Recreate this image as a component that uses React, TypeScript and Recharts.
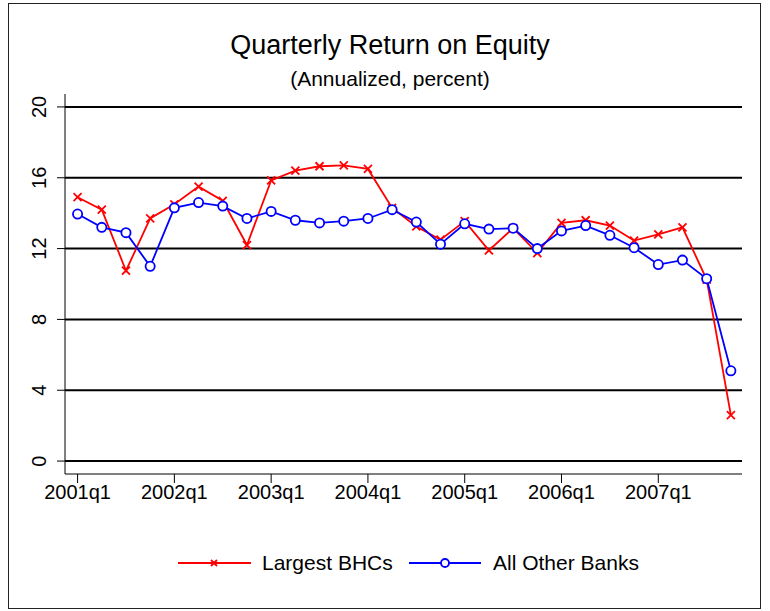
import { LineChart, Line, XAxis, YAxis, ReferenceLine } from 'recharts'

const QUARTERS = [
  '2001q1', '2001q2', '2001q3', '2001q4',
  '2002q1', '2002q2', '2002q3', '2002q4',
  '2003q1', '2003q2', '2003q3', '2003q4',
  '2004q1', '2004q2', '2004q3', '2004q4',
  '2005q1', '2005q2', '2005q3', '2005q4',
  '2006q1', '2006q2', '2006q3', '2006q4',
  '2007q1', '2007q2', '2007q3', '2007q4',
]

// Largest BHCs
const LARGEST_BHCS = [
  14.9, 14.2, 10.75, 13.7, 14.5, 15.5, 14.7, 12.2,
  15.85, 16.4, 16.65, 16.7, 16.5, 14.3, 13.25, 12.5,
  13.55, 11.9, 13.15, 11.75, 13.45, 13.6, 13.3, 12.45,
  12.8, 13.2, 10.25, 2.6,
]

// All Other Banks
const OTHER_BANKS = [
  13.95, 13.2, 12.9, 11.0, 14.3, 14.6, 14.4, 13.7,
  14.1, 13.6, 13.45, 13.55, 13.7, 14.2, 13.5, 12.25,
  13.4, 13.1, 13.15, 12.0, 13.0, 13.3, 12.75, 12.05,
  11.1, 11.35, 10.3, 5.1,
]

const X_TICKS = [0, 4, 8, 12, 16, 20, 24]
const Y_TICKS = [0, 4, 8, 12, 16, 20]

const FONT = '"Liberation Sans", Arial, sans-serif'

const data = QUARTERS.map((q, i) => ({
  idx: i,
  name: q,
  bhc: LARGEST_BHCS[i],
  other: OTHER_BANKS[i],
}))

const CrossDot = (props: any) => {
  const { cx, cy } = props
  if (cx == null || cy == null) return null
  const s = 4
  return (
    <g>
      <line x1={cx - s} y1={cy - s} x2={cx + s} y2={cy + s} stroke="#ff0000" strokeWidth={1.8} />
      <line x1={cx - s} y1={cy + s} x2={cx + s} y2={cy - s} stroke="#ff0000" strokeWidth={1.8} />
    </g>
  )
}

const CircleDot = (props: any) => {
  const { cx, cy } = props
  if (cx == null || cy == null) return null
  return <circle cx={cx} cy={cy} r={4.6} fill="#ffffff" stroke="#0000ff" strokeWidth={1.8} />
}

const YTick = (props: any) => {
  const { x, y, payload } = props
  return (
    <text
      x={x - 9}
      y={y}
      transform={`rotate(-90 ${x - 9} ${y})`}
      textAnchor="middle"
      fontSize={20}
      fontFamily={FONT}
      fill="#000"
    >
      {payload.value}
    </text>
  )
}

export default function App() {
  return (
    <div
      style={{
        position: 'absolute',
        left: 0,
        top: 0,
        width: 770,
        height: 611,
        background: '#fff',
        fontFamily: FONT,
      }}
    >
      {/* outer frame */}
      <div
        style={{
          position: 'absolute',
          left: 8,
          top: 3,
          width: 751,
          height: 604,
          border: '1.5px solid #222',
        }}
      />

      {/* titles */}
      <div style={{ position: 'absolute', top: 30, left: 0, width: 780, textAlign: 'center', fontSize: 27, color: '#000' }}>
        Quarterly Return on Equity
      </div>
      <div style={{ position: 'absolute', top: 67, left: 0, width: 780, textAlign: 'center', fontSize: 21, color: '#000' }}>
        (Annualized, percent)
      </div>

      <div style={{ position: 'absolute', left: 0, top: 0 }}>
        <LineChart width={770} height={611} data={data} margin={{ top: 94, right: 28, bottom: 97, left: 0 }}>
          {Y_TICKS.map((v) => (
            <ReferenceLine key={v} y={v} stroke="#000" strokeWidth={2} />
          ))}
          <XAxis
            dataKey="idx"
            type="number"
            domain={[-0.52, 27.46]}
            ticks={X_TICKS}
            tickFormatter={(v: number) => QUARTERS[v]}
            tick={{ fontSize: 20, fill: '#000', fontFamily: FONT }}
            tickSize={9}
            tickLine={{ stroke: '#000' }}
            axisLine={{ stroke: '#000' }}
            height={40}
            interval={0}
          />
          <YAxis
            type="number"
            domain={[-0.73, 20.73]}
            ticks={Y_TICKS}
            tick={<YTick />}
            tickSize={8}
            tickLine={{ stroke: '#000' }}
            axisLine={{ stroke: '#000' }}
            width={65}
            allowDataOverflow
          />
          <Line
            dataKey="bhc"
            name="Largest BHCs"
            stroke="#ff0000"
            strokeWidth={1.8}
            dot={<CrossDot />}
            activeDot={false}
            isAnimationActive={false}
          />
          <Line
            dataKey="other"
            name="All Other Banks"
            stroke="#0000ff"
            strokeWidth={1.8}
            dot={<CircleDot />}
            activeDot={false}
            isAnimationActive={false}
          />
        </LineChart>
      </div>

      {/* legend */}
      <svg style={{ position: 'absolute', left: 0, top: 540 }} width={770} height={50}>
        <line x1={178} y1={23} x2={251} y2={23} stroke="#ff0000" strokeWidth={1.8} />
        <line x1={211} y1={20} x2={217} y2={26} stroke="#ff0000" strokeWidth={1.8} />
        <line x1={211} y1={26} x2={217} y2={20} stroke="#ff0000" strokeWidth={1.8} />
        <text x={262} y={30} fontSize={21} fontFamily={FONT} fill="#000">Largest BHCs</text>
        <line x1={409} y1={23} x2={481} y2={23} stroke="#0000ff" strokeWidth={1.8} />
        <circle cx={445} cy={23} r={4} fill="#fff" stroke="#0000ff" strokeWidth={1.8} />
        <text x={493} y={30} fontSize={21} fontFamily={FONT} fill="#000">All Other Banks</text>
      </svg>
    </div>
  )
}
